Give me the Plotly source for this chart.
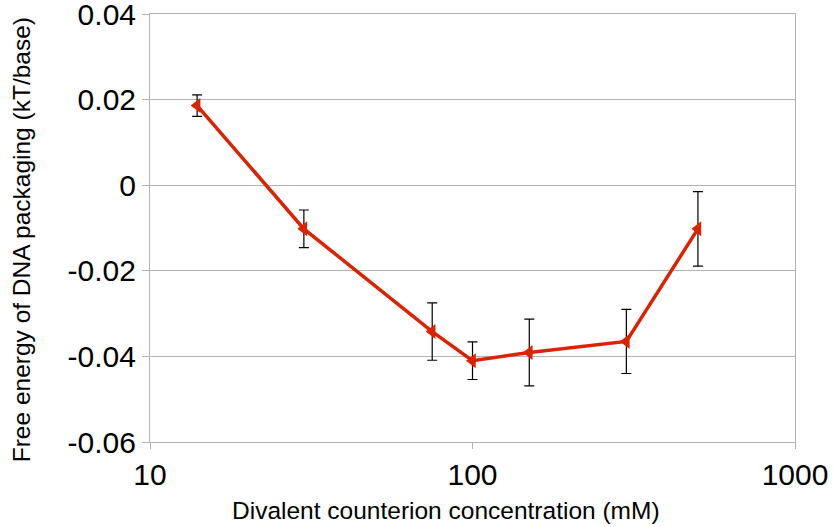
import plotly.graph_objects as go

conc_mM = [14, 30, 75, 100, 150, 300, 500]
free_energy = [0.0186, -0.0102, -0.0342, -0.0410, -0.0391, -0.0365, -0.0102]
err_plus = [0.0025, 0.0044, 0.0067, 0.0044, 0.0078, 0.0075, 0.0087]

y_tickvals = [0.04, 0.02, 0, -0.02, -0.04, -0.06]
y_ticktext = ["0.04", "0.02", "0", "-0.02", "-0.04", "-0.06"]
x_tickvals = [10, 100, 1000]
x_ticktext = ["10", "100", "1000"]
x_title = "Divalent counterion concentration (mM)"
y_title = "Free energy of DNA packaging (kT/base)"

red = "#dd2200"

fig = go.Figure()
fig.add_trace(go.Scatter(
    x=conc_mM, y=free_energy, mode="lines+markers",
    line=dict(color=red, width=3.5),
    marker=dict(symbol="triangle-left", size=13, color=red),
    error_y=dict(type="data", array=err_plus, visible=True,
                 color="black", thickness=1.2, width=5),
    showlegend=False,
    cliponaxis=False,
))

font = "Liberation Sans, Arial, sans-serif"
fig.update_layout(
    width=834, height=527,
    margin=dict(l=150, r=39, t=14, b=85),
    paper_bgcolor="white", plot_bgcolor="white",
    font=dict(family=font, color="black"),
    xaxis=dict(
        type="log", range=[1, 3],
        tickvals=x_tickvals, ticktext=x_ticktext,
        tickfont=dict(size=30),
        ticklabeloverflow="allow", automargin=False,
        showgrid=False, zeroline=False,
        showline=True, linecolor="#b3b3b3", linewidth=1, mirror=True,
        ticks="outside", ticklen=6, tickcolor="#b3b3b3",
    ),
    yaxis=dict(
        range=[-0.06, 0.0400001],
        tickvals=y_tickvals, ticktext=y_ticktext,
        tickfont=dict(size=30),
        ticklabeloverflow="allow", automargin=False,
        showgrid=True, gridcolor="#b3b3b3", gridwidth=1,
        zeroline=False,
        showline=True, linecolor="#b3b3b3", linewidth=1, mirror=True,
        ticks="outside", ticklen=7, tickcolor="#b3b3b3",
    ),
    annotations=[
        dict(text=x_title, xref="paper", yref="paper",
             x=0.459, y=-0.159, xanchor="center", yanchor="middle",
             showarrow=False, font=dict(size=24.5)),
        dict(text=y_title, xref="paper", yref="paper", textangle=-90,
             x=-0.198, y=0.472, xanchor="center", yanchor="middle",
             showarrow=False, font=dict(size=24.5)),
    ],
)

fig.write_html("out.html")
